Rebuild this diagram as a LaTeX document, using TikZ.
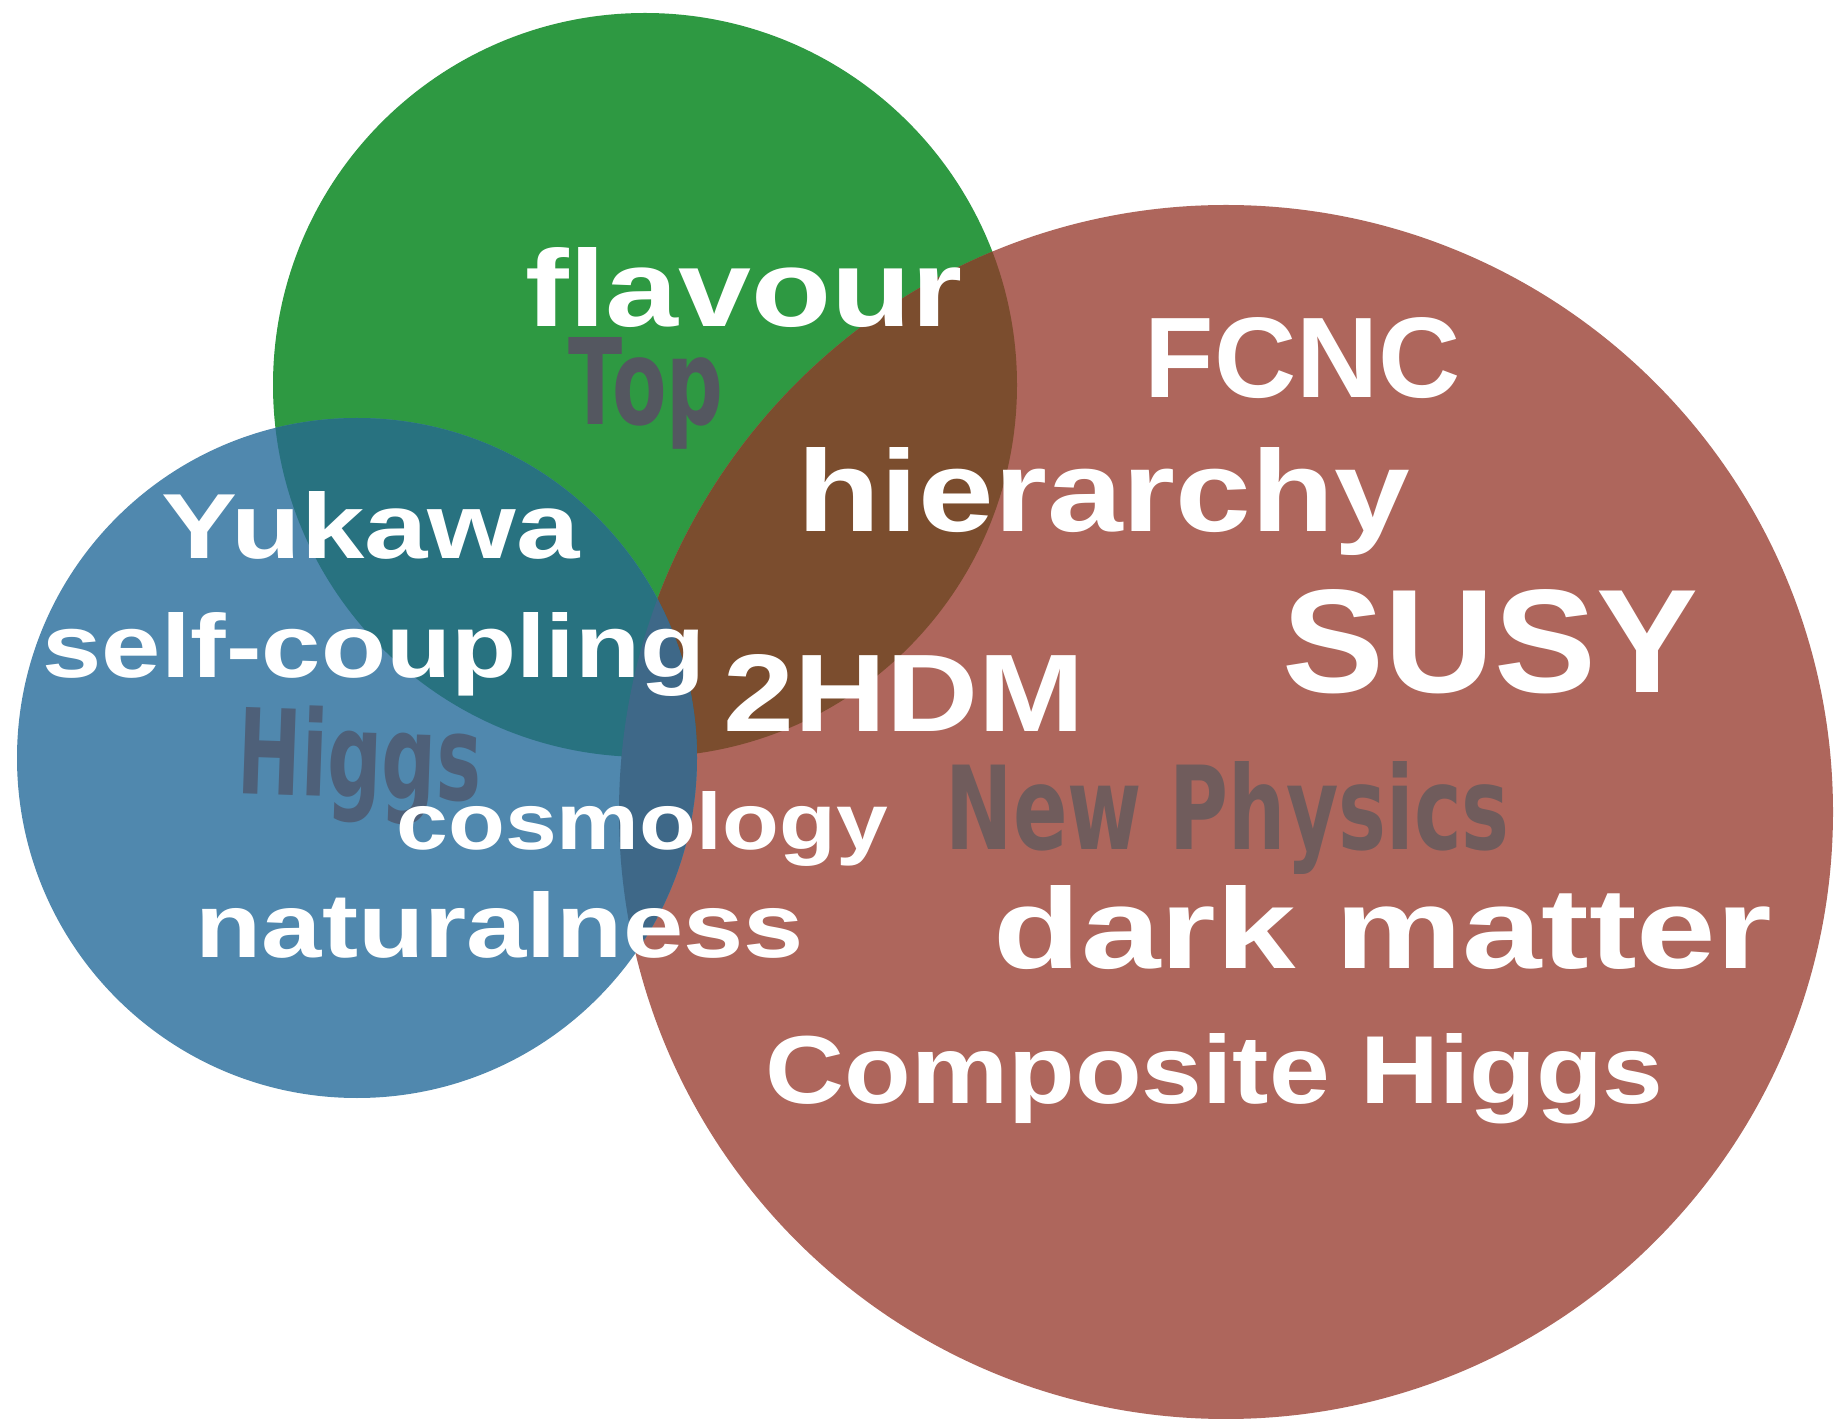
\documentclass[tikz,border=0pt]{standalone}
\usepackage{fontspec}
\usepackage{graphicx}
\usepackage{xcolor}
\usetikzlibrary{positioning}
\newfontfamily\wordfont{Liberation Sans}
\newfontfamily\tagfont{DejaVu Sans}
\newlength\pxlen
\setlength\pxlen{0.01cm}
\newcommand{\wordbox}[3]{\resizebox{#1\pxlen}{#2\pxlen}{#3}}
\definecolor{topgreen}{HTML}{2E9942}
\definecolor{npred}{HTML}{AE665C}
\definecolor{higgsblue}{HTML}{5088AE}
\definecolor{topnp}{HTML}{7B4D2E}
\definecolor{tophiggs}{HTML}{287280}
\definecolor{higgsnp}{HTML}{3E6888}
\definecolor{toptag}{HTML}{545760}
\definecolor{higgstag}{HTML}{4E6079}
\definecolor{nptag}{HTML}{705C5C}
\tikzset{
  word/.style={anchor=base west, inner sep=0pt, text=white, font=\wordfont\bfseries},
  tag/.style={anchor=base west, inner sep=0pt, font=\tagfont\bfseries},
}

\begin{document}
\begin{tikzpicture}[x=0.01cm, y=0.01cm]
    \fill[white] (0,0) rectangle (1839,-1419);
    \useasboundingbox (0,0) rectangle (1839,-1419);
    % the three circles
    \fill[topgreen] (645,-385) circle (372);
    \fill[npred] (1226,-812) circle (607);
    \fill[higgsblue] (357,-758) circle (340);
    % overlaps
    \begin{scope}
        \clip (645,-385) circle (372);
        \fill[topnp] (1226,-812) circle (607);
        \fill[tophiggs] (357,-758) circle (340);
    \end{scope}
    \begin{scope}
        \clip (1226,-812) circle (607);
        \fill[higgsnp] (357,-758) circle (340);
    \end{scope}
    % circle names
    \node[tag, text=toptag] (top) at (568,-425) {\wordbox{155}{87}{Top}};
    \node[tag, text=higgstag, rotate=-2] (higgs) at (236,-793) {\wordbox{244}{90}{Higgs}};
    \node[tag, text=nptag] (newphysics) at (945,-850) {\wordbox{564}{88}{New Physics}};
    % topics
    \node[word] (flavour) at (525,-327) {\wordbox{437}{79}{flavour}};
    \node[word] (fcnc) at (1144,-398) {\wordbox{316}{80}{FCNC}};
    \node[word] (hierarchy) at (797,-532) {\wordbox{612}{84}{hierarchy}};
    \node[word] (yukawa) at (161,-559) {\wordbox{418}{67}{Yukawa}};
    \node[word] (selfcoupling) at (42,-678) {\wordbox{663}{65}{self-coupling}};
    \node[word] (thdm) at (723,-732) {\wordbox{361}{77}{2HDM}};
    \node[word] (susy) at (1282,-693) {\wordbox{416}{103}{SUSY}};
    \node[word] (cosmology) at (396,-850) {\wordbox{491}{58}{cosmology}};
    \node[word] (naturalness) at (195,-958) {\wordbox{608}{66}{naturalness}};
    \node[word] (darkmatter) at (993,-968) {\wordbox{778}{83}{dark matter}};
    \node[word] (composite) at (765,-1103) {\wordbox{898}{70}{Composite Higgs}};
\end{tikzpicture}
\end{document}
